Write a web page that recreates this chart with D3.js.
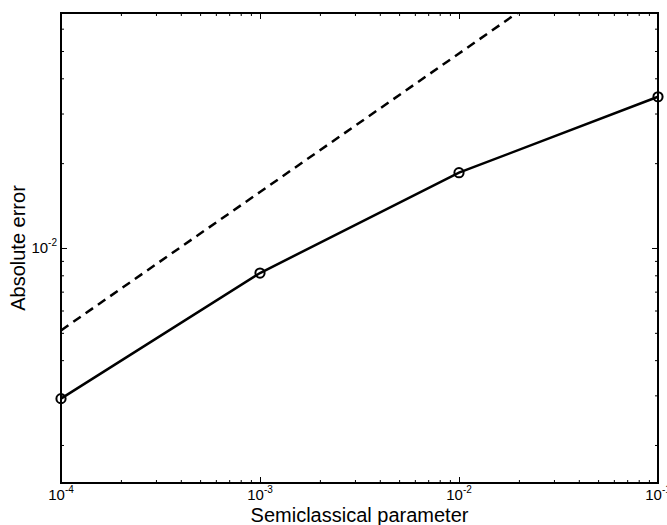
<!DOCTYPE html>
<html>
<head>
<meta charset="utf-8">
<script src="https://cdn.jsdelivr.net/npm/d3@7"></script>
<style>
  body { margin: 0; background: #fff; }
  svg { display: block; }
</style>
</head>
<body>
<div id="chart"></div>
<script>
// Data
const hValues = [1e-4, 1e-3, 1e-2, 1e-1];
const errorValues = [2.92e-3, 8.15e-3, 1.85e-2, 3.44e-2];
const refValues = [5.1e-3, 1.58e-2, 4.9e-2, 0.152];

const xMajor = [1e-4, 1e-3, 1e-2, 1e-1];
const xMajorExp = ["-4", "-3", "-2", "-1"];
const yMajor = [1e-2];
const yMajorExp = ["-2"];

// Layout
const width = 667, height = 525;
const plotLeft = 61, plotRight = 658, plotTop = 13, plotBottom = 483;

const x = d3.scaleLog().domain([1e-4, 1e-1]).range([plotLeft, plotRight]);
const y = d3.scaleLog().domain([1.466e-3, 6.82e-2]).range([plotBottom, plotTop]);

const svg = d3.select("#chart").append("svg")
  .attr("width", width)
  .attr("height", height)
  .attr("font-family", "'Liberation Sans', Arial, Helvetica, sans-serif");

// minor ticks
const xMinor = [];
for (let e = -4; e < -1; e++) {
  for (let k = 2; k <= 9; k++) xMinor.push(k * Math.pow(10, e));
}
const yMinor = [];
for (let e = -3; e <= -2; e++) {
  for (let k = 1; k <= 9; k++) {
    const v = k * Math.pow(10, e);
    if (v >= 1.466e-3 && v <= 6.82e-2 && v !== 1e-2) yMinor.push(v);
  }
}

function tickAxis(axisFn, scale, vals, size, transform) {
  svg.append("g")
    .attr("transform", transform)
    .call(axisFn(scale).tickValues(vals).tickSize(size).tickFormat(""))
    .call((g) => g.select(".domain").remove())
    .selectAll("line")
    .attr("stroke", "#000")
    .attr("stroke-width", 1);
}

// ticks on all four sides, pointing inward
tickAxis(d3.axisBottom, x, xMajor, -6, `translate(0,${plotBottom})`);
tickAxis(d3.axisBottom, x, xMinor, -3, `translate(0,${plotBottom})`);
tickAxis(d3.axisTop, x, xMajor, -6, `translate(0,${plotTop})`);
tickAxis(d3.axisTop, x, xMinor, -3, `translate(0,${plotTop})`);
tickAxis(d3.axisLeft, y, yMajor, -6, `translate(${plotLeft},0)`);
tickAxis(d3.axisLeft, y, yMinor, -3, `translate(${plotLeft},0)`);
tickAxis(d3.axisRight, y, yMajor, -6, `translate(${plotRight},0)`);
tickAxis(d3.axisRight, y, yMinor, -3, `translate(${plotRight},0)`);

// box
svg.append("rect")
  .attr("x", plotLeft)
  .attr("y", plotTop)
  .attr("width", plotRight - plotLeft)
  .attr("height", plotBottom - plotTop)
  .attr("fill", "none")
  .attr("stroke", "#000")
  .attr("stroke-width", 2);

// x tick labels
xMajor.forEach((v, i) => {
  const t = svg.append("text")
    .attr("x", x(v))
    .attr("y", 500)
    .attr("text-anchor", "middle")
    .attr("font-size", 15);
  t.append("tspan").text("10");
  t.append("tspan").attr("dy", -7).attr("font-size", 10).text(xMajorExp[i]);
});

// y tick labels
yMajor.forEach((v, i) => {
  const t = svg.append("text")
    .attr("x", plotLeft - 4)
    .attr("y", y(v) + 5)
    .attr("text-anchor", "end")
    .attr("font-size", 15);
  t.append("tspan").text("10");
  t.append("tspan").attr("dy", -7).attr("font-size", 10).text(yMajorExp[i]);
});

// axis titles
svg.append("text")
  .attr("x", (plotLeft + plotRight) / 2)
  .attr("y", 522)
  .attr("text-anchor", "middle")
  .attr("font-size", 20)
  .text("Semiclassical parameter");

svg.append("text")
  .attr("transform", `translate(25,${(plotTop + plotBottom) / 2}) rotate(-90)`)
  .attr("text-anchor", "middle")
  .attr("font-size", 20)
  .text("Absolute error");

// clip to plot area
svg.append("defs").append("clipPath")
  .attr("id", "plot-clip")
  .append("rect")
  .attr("x", plotLeft)
  .attr("y", plotTop)
  .attr("width", plotRight - plotLeft)
  .attr("height", plotBottom - plotTop);

const line = d3.line()
  .x((d) => x(d[0]))
  .y((d) => y(d[1]));

// reference dashed line
svg.append("path")
  .datum(hValues.map((h, i) => [h, refValues[i]]))
  .attr("clip-path", "url(#plot-clip)")
  .attr("d", line)
  .attr("fill", "none")
  .attr("stroke", "#000")
  .attr("stroke-width", 2.5)
  .attr("stroke-dasharray", "9,6");

// error curve
const errData = hValues.map((h, i) => [h, errorValues[i]]);
svg.append("path")
  .datum(errData)
  .attr("d", line)
  .attr("fill", "none")
  .attr("stroke", "#000")
  .attr("stroke-width", 2.5);

svg.selectAll("circle.marker")
  .data(errData)
  .enter()
  .append("circle")
  .attr("class", "marker")
  .attr("cx", (d) => x(d[0]))
  .attr("cy", (d) => y(d[1]))
  .attr("r", 4.6)
  .attr("fill", "none")
  .attr("stroke", "#000")
  .attr("stroke-width", 2);
</script>
</body>
</html>
